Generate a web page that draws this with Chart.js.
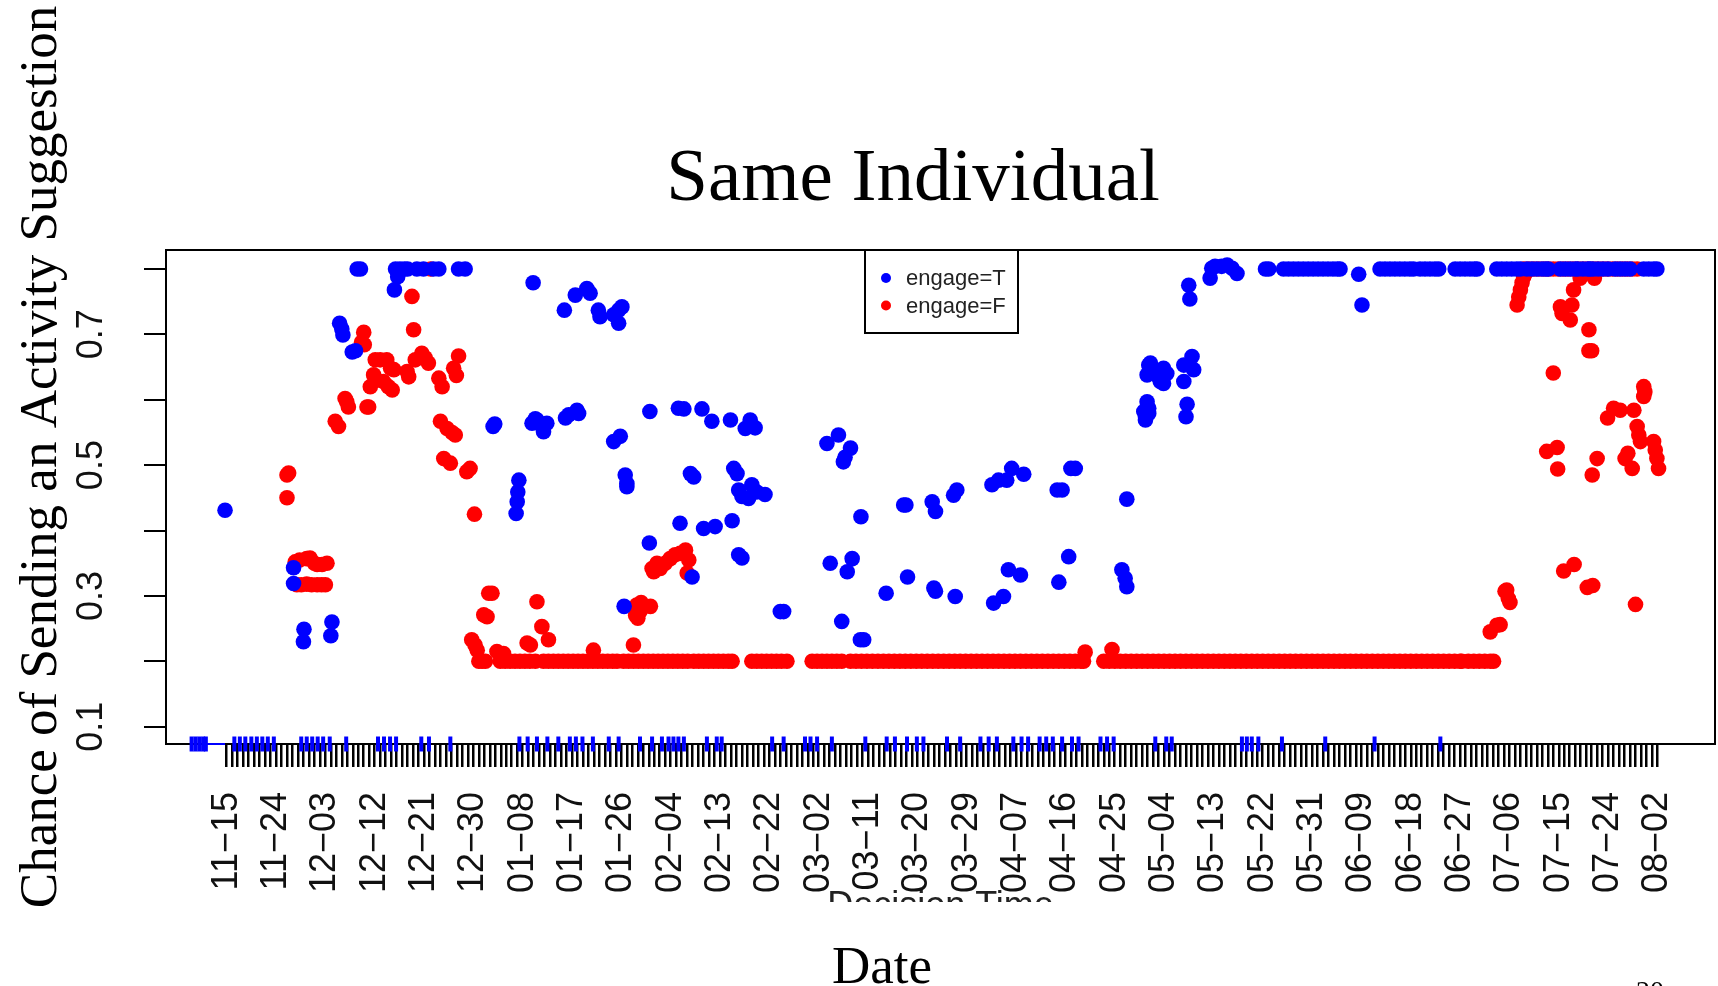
<!DOCTYPE html>
<html lang="en">
<head>
    <meta charset="UTF-8">
    <title>Same Individual</title>
    <style>
        body {
            margin: 0;
            padding: 0;
            background-color: #ffffff;
        }
        .chart-container {
            position: relative;
            width: 1718px;
            height: 986px;
        }
    </style>
    <script src="https://cdn.jsdelivr.net/npm/chart.js"></script>
</head>
<body>
    <div class="chart-container">
        <canvas id="probChart"></canvas>
    </div>
    <script>
        // x is days since 11-15, one label every 9 days
        const dateLabels = ["11−15", "11−24", "12−03", "12−12", "12−21", "12−30", "01−08", "01−17", "01−26", "02−04",
            "02−13", "02−22", "03−02", "03−11", "03−20", "03−29", "04−07", "04−16", "04−25", "05−04",
            "05−13", "05−22", "05−31", "06−09", "06−18", "06−27", "07−06", "07−15", "07−24", "08−02"];
        const yLabelValues = [0.1, 0.3, 0.5, 0.7];

        // engage=T (blue), [day, probability]
        const engageT = [
            [-0.3, 0.431],
            [12.2, 0.343], [12.2, 0.319], [14.1, 0.249], [14.0, 0.230], [19.2, 0.260], [19.0, 0.239],
            [20.6, 0.717], [21.0, 0.708], [21.2, 0.699], [22.9, 0.673], [23.5, 0.675],
            [23.8, 0.8], [24.4, 0.8],
            [30.6, 0.768], [31.2, 0.788], [30.8, 0.8], [31.6, 0.8], [32.4, 0.8], [33.0, 0.8],
            [34.7, 0.8], [35.9, 0.8], [37.7, 0.8], [38.7, 0.8], [42.3, 0.8], [43.5, 0.8],
            [48.6, 0.559], [48.9, 0.563],
            [52.8, 0.426], [53.0, 0.444], [53.1, 0.459], [53.3, 0.477],
            [55.7, 0.564], [56.3, 0.571], [56.6, 0.569], [57.5, 0.560], [57.8, 0.551], [58.4, 0.564],
            [55.9, 0.779],
            [61.6, 0.737], [63.6, 0.760], [65.7, 0.770], [66.3, 0.763], [67.8, 0.737], [68.1, 0.727],
            [70.6, 0.730], [71.5, 0.717], [71.5, 0.737], [72.1, 0.742],
            [61.8, 0.572], [62.4, 0.577], [63.9, 0.584], [64.2, 0.579],
            [70.6, 0.536], [71.8, 0.544],
            [72.7, 0.485], [73.0, 0.472], [73.0, 0.467],
            [72.5, 0.284],
            [77.2, 0.582], [77.1, 0.381],
            [82.4, 0.587], [83.4, 0.586], [86.7, 0.586], [88.5, 0.567], [91.9, 0.569], [94.6, 0.556], [95.5, 0.569], [96.4, 0.557],
            [84.6, 0.487], [85.2, 0.482], [92.5, 0.495], [93.1, 0.487],
            [93.4, 0.462], [94.0, 0.452], [95.2, 0.449], [95.8, 0.470], [96.7, 0.459], [98.2, 0.455],
            [82.7, 0.411], [87.0, 0.403], [89.1, 0.406], [92.2, 0.415],
            [93.4, 0.363], [94.0, 0.358], [84.9, 0.329],
            [101.0, 0.276], [101.6, 0.276],
            [109.5, 0.533], [111.6, 0.546], [112.5, 0.505], [112.8, 0.512], [113.8, 0.526],
            [115.7, 0.421],
            [110.1, 0.350], [113.2, 0.337], [114.1, 0.357],
            [112.2, 0.261], [115.6, 0.233], [116.2, 0.233],
            [120.3, 0.304], [123.5, 0.439], [123.9, 0.439], [124.2, 0.329],
            [128.7, 0.444], [129.3, 0.429], [129.0, 0.312], [129.3, 0.307],
            [132.6, 0.454], [133.2, 0.462], [132.9, 0.299],
            [139.6, 0.470], [140.8, 0.477], [142.3, 0.477], [143.2, 0.495], [145.4, 0.486],
            [139.9, 0.289], [141.7, 0.299], [142.6, 0.340], [144.8, 0.332],
            [151.5, 0.462], [152.4, 0.462], [151.8, 0.321], [154.0, 0.495], [154.8, 0.495], [153.6, 0.360],
            [163.3, 0.340], [163.9, 0.327], [164.2, 0.314], [164.2, 0.448],
            [167.3, 0.582], [167.6, 0.574], [167.6, 0.569], [167.9, 0.597], [168.2, 0.587], [168.2, 0.579],
            [167.9, 0.638], [168.2, 0.653], [168.5, 0.656], [169.1, 0.640], [170.0, 0.635], [170.3, 0.628],
            [170.9, 0.648], [170.9, 0.625], [171.5, 0.640],
            [174.6, 0.653], [176.1, 0.666], [176.4, 0.646], [174.6, 0.628], [175.2, 0.593], [175.0, 0.574],
            [175.5, 0.775], [175.7, 0.754],
            [179.4, 0.786], [179.7, 0.801], [180.3, 0.804], [181.5, 0.804], [182.5, 0.806], [183.4, 0.801], [184.3, 0.793],
            [189.5, 0.8], [190.1, 0.8],
            [206.5, 0.792], [207.1, 0.745]
        ];
        // engage=T points sitting on the 0.8 cap (days)
        const engageTCapDays = [192.8, 193.7, 194.6, 195.5, 196.4, 197.3, 198.2, 199.1, 200.0, 200.9, 201.8, 202.6, 203.1,
            210.4, 211.3, 212.2, 213.1, 214.0, 214.9, 215.8, 216.5,
            217.7, 218.6, 219.5, 220.4, 221.1,
            224.1, 225.0, 225.9, 226.8, 227.6, 228.1,
            231.7, 232.6, 233.5, 234.4, 235.3, 236.0,
            237.2, 238.1, 239.0, 239.9, 240.6, 241.1,
            243.3, 244.2, 245.1, 246.0, 246.5, 247.4, 248.3, 248.7,
            249.3, 250.2, 251.1, 252.0,
            253.3, 254.2, 255.1, 256.0,
            258.5, 259.4, 260.3, 260.9];

        // engage=F (red), [day, probability]
        const engageF = [
            [11.0, 0.485], [11.3, 0.488], [11.0, 0.450],
            [12.5, 0.352], [13.3, 0.355], [14.6, 0.357], [15.2, 0.358], [16.0, 0.350], [16.5, 0.348], [17.4, 0.348], [18.3, 0.350],
            [12.8, 0.317], [13.6, 0.317], [14.6, 0.318], [15.5, 0.317], [16.5, 0.317], [17.3, 0.317], [18.0, 0.317],
            [19.8, 0.567], [20.4, 0.559], [21.6, 0.602], [21.9, 0.597], [22.2, 0.589],
            [24.6, 0.688], [25.0, 0.703], [25.1, 0.684], [25.6, 0.589], [25.9, 0.589],
            [26.2, 0.620], [26.8, 0.638], [27.1, 0.661], [28.0, 0.661], [29.2, 0.661], [29.9, 0.648], [30.5, 0.646],
            [27.4, 0.630], [28.6, 0.628], [29.5, 0.620], [30.2, 0.615],
            [32.9, 0.643], [33.2, 0.635], [33.8, 0.758], [34.1, 0.707],
            [34.4, 0.661], [35.6, 0.671], [36.2, 0.664], [36.8, 0.656], [37.2, 0.8],
            [38.7, 0.633], [39.3, 0.620], [41.4, 0.648], [41.9, 0.637], [42.3, 0.667],
            [39.0, 0.567], [40.2, 0.556], [41.1, 0.550], [41.7, 0.546],
            [39.6, 0.510], [40.8, 0.503], [43.8, 0.490], [44.4, 0.495], [45.2, 0.425],
            [46.9, 0.271], [47.5, 0.268], [47.8, 0.304], [48.4, 0.304],
            [44.7, 0.233], [45.3, 0.225], [45.7, 0.217], [46.0, 0.2], [46.6, 0.2], [47.2, 0.2],
            [49.3, 0.215], [50.5, 0.212], [54.8, 0.228], [55.4, 0.225],
            [56.6, 0.291], [57.5, 0.253], [58.7, 0.233], [66.9, 0.217], [74.2, 0.225],
            [74.6, 0.270], [74.8, 0.286], [75.0, 0.266], [75.4, 0.276], [75.6, 0.290], [77.3, 0.284],
            [77.6, 0.342], [77.9, 0.337], [78.5, 0.350], [79.1, 0.342], [80.0, 0.350], [80.9, 0.357],
            [81.8, 0.363], [82.7, 0.365], [83.7, 0.370], [84.3, 0.355], [84.0, 0.335],
            [156.6, 0.214], [161.5, 0.218],
            [230.5, 0.245], [231.7, 0.255], [232.3, 0.256],
            [233.2, 0.307], [233.5, 0.309], [233.8, 0.296], [234.1, 0.290],
            [235.4, 0.745], [235.7, 0.757], [236.0, 0.768], [236.3, 0.779], [236.6, 0.788], [236.9, 0.793],
            [242.0, 0.641], [240.8, 0.521], [242.7, 0.527], [242.8, 0.494],
            [243.3, 0.742], [243.6, 0.732], [245.1, 0.722], [245.4, 0.745], [245.7, 0.768], [246.9, 0.786], [249.5, 0.786],
            [248.5, 0.707], [248.5, 0.675], [249.0, 0.675],
            [250.0, 0.510], [249.1, 0.485],
            [251.9, 0.572], [253.0, 0.587], [254.2, 0.584], [256.7, 0.584],
            [255.1, 0.510], [255.6, 0.518], [256.4, 0.495],
            [257.3, 0.559], [257.6, 0.546], [257.9, 0.536],
            [258.5, 0.620], [258.7, 0.612], [258.5, 0.605],
            [260.3, 0.536], [260.6, 0.523], [260.9, 0.510], [261.2, 0.495],
            [243.9, 0.338], [245.8, 0.348], [248.2, 0.313], [249.2, 0.316], [257.0, 0.287]
        ];
        // engage=F points sitting on the 0.2 floor (days)
        const engageFFloorDays = [49.9, 50.8, 51.7, 52.6, 53.5, 54.4, 55.3, 56.3,
            57.8, 58.7, 59.6, 60.5, 61.4, 62.3, 63.2, 64.1, 65.0, 65.9, 66.8, 67.7, 68.6, 69.5, 70.4, 71.2,
            72.4, 73.3, 74.2, 75.1, 76.0, 76.9, 77.8, 78.7, 79.6, 80.5, 81.4, 82.3, 83.2, 84.1,
            85.2, 86.1, 87.0, 87.9, 88.8, 89.7, 90.6, 91.5, 92.2,
            95.8, 96.7, 97.6, 98.5, 99.4, 100.3, 101.2, 102.2,
            106.8, 107.7, 108.6, 109.5, 110.4, 111.3, 112.2,
            113.8, 114.8, 115.8, 116.8, 117.8, 118.8, 119.8, 120.8, 121.8, 122.8, 123.8, 124.8, 125.8, 126.8,
            127.8, 128.8, 129.8, 130.8, 131.8, 132.8, 133.8, 134.8, 135.8, 136.8, 137.8, 138.8, 139.8, 140.8,
            141.8, 142.8, 143.8, 144.8, 145.8, 146.8, 147.8, 148.8, 149.8, 150.8, 151.8, 152.8, 153.8, 154.8,
            155.8, 156.3,
            160, 161, 162, 163, 164, 165, 166, 167, 168, 169, 170, 171, 172, 173, 174, 175, 176, 177, 178, 179,
            180, 181, 182, 183, 184, 185, 186, 187, 188, 189, 190, 191, 192, 193, 194, 195, 196, 197, 198, 199,
            200, 201, 202, 203, 204, 205, 206, 207, 208, 209, 210, 211, 212, 213, 214, 215, 216, 217, 218, 219,
            220, 221, 222, 223, 224, 225, 225.3,
            226.5, 227.5, 228.5, 229.5, 230.5, 231.1];
        // engage=F points on the 0.8 cap, mostly hidden under blue
        const engageFCapDays = [236.6, 237.5, 238.4, 239.3, 240.2, 241.1, 242.0, 242.9, 243.8, 244.7, 245.6, 246.5,
            247.4, 248.3, 249.2, 250.1, 251.0, 251.9, 252.8, 253.7, 254.6, 255.5, 256.4, 257.3];

        // blue marks sitting on the x axis
        const rugDays = [-6.4, -5.7, -5.0, -4.3, -3.8,
            1.4, 2.4, 3.4, 4.5, 5.5, 6.5, 7.5, 8.6,
            13.6, 14.6, 15.6, 16.6, 17.6, 18.8, 21.8,
            27.6, 28.7, 29.8, 30.9, 35.5, 36.9, 40.8,
            53.4, 54.9, 56.6, 58.5, 60.5, 62.6, 63.7, 64.9, 66.8, 69.7, 71.5, 75.4, 77.6,
            79.4, 80.6, 81.5, 82.4, 83.4, 87.6, 89.4, 90.3, 99.5, 101.6,
            105.5, 106.5, 107.7, 110.4, 116.5, 120.4, 121.9, 124.1, 125.9, 127.1,
            131.4, 133.8, 137.5, 139.0, 140.5, 143.5, 145.0, 146.2, 148.3, 149.5, 150.7, 152.4, 154.2, 155.4,
            159.4, 160.6, 161.8, 169.4, 171.4, 172.4, 185.2, 186.1, 187.0, 188.2,
            192.5, 200.4, 209.4, 221.4];
        const rugLineDays = [-3.7, -0.3];

        const CAP = 0.8;
        const FLOOR = 0.2;
        const Y_MIN = 0.0735;
        const Y_MAX = 0.829;

        const SANS = "'Liberation Sans', Arial, sans-serif";
        const SERIF = "'Liberation Serif', 'Times New Roman', serif";

        const pts = (pairs) => pairs.map(p => ({ x: p[0], y: p[1] }));
        const atLevel = (days, level) => days.map(d => ({ x: d, y: level }));

        const decorPlugin = {
            id: "decor",
            beforeDraw(chart) {
                // leftover of the original "Decision Time" label, cut off by the slide
                const ctx = chart.ctx;
                const a = chart.chartArea;
                ctx.save();
                ctx.beginPath();
                ctx.rect(0, 880, chart.width, 22);
                ctx.clip();
                ctx.fillStyle = "#222";
                ctx.font = "36px " + SANS;
                ctx.textAlign = "center";
                ctx.textBaseline = "alphabetic";
                ctx.fillText("Decision Time", (a.left + a.right) / 2, 917);
                ctx.restore();
            },
            beforeDatasetsDraw(chart) {
                const { ctx, chartArea: a } = chart;
                ctx.save();
                ctx.strokeStyle = "#000";
                ctx.lineWidth = 2;
                ctx.strokeRect(a.left, a.top, a.right - a.left, a.bottom - a.top);
                ctx.restore();
            },
            afterDraw(chart) {
                const ctx = chart.ctx;
                const yScale = chart.scales.y;

                // y tick labels, rotated like base R
                ctx.save();
                ctx.fillStyle = "#111";
                ctx.font = "36px " + SANS;
                ctx.textAlign = "center";
                ctx.textBaseline = "middle";
                for (const v of yLabelValues) {
                    ctx.save();
                    ctx.translate(92, yScale.getPixelForValue(v));
                    ctx.rotate(-Math.PI / 2);
                    ctx.fillText(v.toFixed(1), 0, 0);
                    ctx.restore();
                }
                ctx.restore();

                // titles
                ctx.save();
                ctx.fillStyle = "#000";
                ctx.textAlign = "center";
                ctx.textBaseline = "alphabetic";
                ctx.font = "75px " + SERIF;
                ctx.fillText("Same Individual", 913, 200);
                ctx.font = "53px " + SERIF;
                ctx.fillText("Date", 882, 983);
                ctx.font = "28px " + SERIF;
                ctx.textAlign = "left";
                ctx.fillText("20", 1636, 1000);
                ctx.font = "53px " + SERIF;
                ctx.textAlign = "center";
                ctx.translate(56, 457);
                ctx.rotate(-Math.PI / 2);
                ctx.fillText("Chance of Sending an Activity Suggestion", 0, 0);
                ctx.restore();

                // legend box at the top of the plot
                ctx.save();
                ctx.strokeStyle = "#000";
                ctx.lineWidth = 2;
                ctx.fillStyle = "#fff";
                ctx.fillRect(865, 250, 153, 83);
                ctx.strokeRect(865, 250, 153, 83);
                ctx.font = "22px " + SANS;
                ctx.textAlign = "left";
                ctx.textBaseline = "middle";
                const rows = [chart.data.datasets[0], chart.data.datasets[1]];
                rows.forEach((ds, i) => {
                    const y = 278 + i * 27.5;
                    ctx.fillStyle = ds.backgroundColor;
                    ctx.beginPath();
                    ctx.arc(886, y, 5, 0, Math.PI * 2);
                    ctx.fill();
                    ctx.fillStyle = "#222";
                    ctx.fillText(ds.label, 906, y + 1);
                });
                ctx.restore();
            }
        };

        const ctx = document.getElementById("probChart").getContext("2d");
        const probChart = new Chart(ctx, {
            type: "scatter",
            data: {
                datasets: [
                    {
                        label: "engage=T",
                        data: pts(engageT).concat(atLevel(engageTCapDays, CAP)),
                        backgroundColor: "#0000ff",
                        pointRadius: 7.8,
                        pointBorderWidth: 0
                    },
                    {
                        label: "engage=F",
                        data: pts(engageF).concat(atLevel(engageFFloorDays, FLOOR), atLevel(engageFCapDays, CAP)),
                        backgroundColor: "#ff0000",
                        pointRadius: 7.8,
                        pointBorderWidth: 0
                    },
                    {
                        label: "rug",
                        data: atLevel(rugDays, Y_MIN),
                        pointStyle: "line",
                        rotation: 90,
                        pointRadius: 7.5,
                        borderColor: "#0000ff",
                        pointBorderWidth: 4,
                        clip: false
                    },
                    {
                        type: "line",
                        label: "rugLine",
                        data: atLevel(rugLineDays, Y_MIN),
                        borderColor: "#0000ff",
                        borderWidth: 2,
                        pointRadius: 0,
                        clip: false
                    }
                ]
            },
            options: {
                responsive: true,
                maintainAspectRatio: false,
                animation: false,
                events: [],
                layout: {
                    autoPadding: false,
                    padding: { left: 0, right: 3, top: 250, bottom: 0 }
                },
                plugins: {
                    legend: { display: false },
                    tooltip: { enabled: false },
                    title: { display: false }
                },
                scales: {
                    x: {
                        type: "linear",
                        min: -11.07,
                        max: 271.5,
                        afterBuildTicks: (scale) => {
                            const ticks = [];
                            for (let d = 0; d <= 261; d++) ticks.push({ value: d });
                            scale.ticks = ticks;
                        },
                        afterFit: (scale) => {
                            scale.height = 242;
                            scale.paddingLeft = 0;
                            scale.paddingRight = 0;
                        },
                        ticks: {
                            autoSkip: false,
                            minRotation: 90,
                            maxRotation: 90,
                            padding: 25,
                            color: "#111",
                            font: { family: SANS, size: 36 },
                            callback: (v) => (v % 9 === 0 ? dateLabels[v / 9] : "")
                        },
                        grid: {
                            drawOnChartArea: false,
                            drawTicks: true,
                            tickLength: 23,
                            color: "#000",
                            lineWidth: 2.5
                        },
                        border: { display: false }
                    },
                    y: {
                        type: "linear",
                        min: Y_MIN,
                        max: Y_MAX,
                        afterBuildTicks: (scale) => {
                            scale.ticks = [0.1, 0.2, 0.3, 0.4, 0.5, 0.6, 0.7, 0.8].map(v => ({ value: v }));
                        },
                        afterFit: (scale) => {
                            scale.width = 166;
                            scale.paddingTop = 0;
                            scale.paddingBottom = 0;
                        },
                        ticks: {
                            padding: 0,
                            callback: () => ""
                        },
                        grid: {
                            drawOnChartArea: false,
                            drawTicks: true,
                            tickLength: 22,
                            color: "#000",
                            lineWidth: 2
                        },
                        border: { display: false }
                    }
                }
            },
            plugins: [decorPlugin]
        });
    </script>
</body>
</html>
